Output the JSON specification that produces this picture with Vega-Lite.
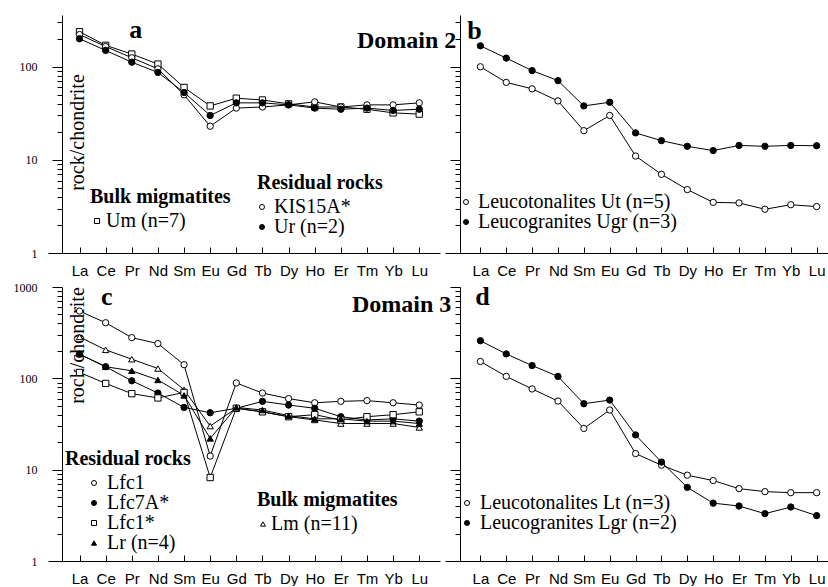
{
  "$schema": "https://vega.github.io/schema/vega-lite/v6.json",
  "padding": {"left": 13, "top": 15, "right": 0, "bottom": 0},
  "background": "white",
  "datasets": {
    "a": [
      {"s": "Um", "el": "La", "v": 238}, {"s": "Um", "el": "Ce", "v": 170}, {"s": "Um", "el": "Pr", "v": 137}, {"s": "Um", "el": "Nd", "v": 107}, {"s": "Um", "el": "Sm", "v": 60}, {"s": "Um", "el": "Eu", "v": 38}, {"s": "Um", "el": "Gd", "v": 46}, {"s": "Um", "el": "Tb", "v": 44}, {"s": "Um", "el": "Dy", "v": 40}, {"s": "Um", "el": "Ho", "v": 37}, {"s": "Um", "el": "Er", "v": 37}, {"s": "Um", "el": "Tm", "v": 35}, {"s": "Um", "el": "Yb", "v": 32}, {"s": "Um", "el": "Lu", "v": 31},
      {"s": "KIS15A*", "el": "La", "v": 222}, {"s": "KIS15A*", "el": "Ce", "v": 165}, {"s": "KIS15A*", "el": "Pr", "v": 125}, {"s": "KIS15A*", "el": "Nd", "v": 95}, {"s": "KIS15A*", "el": "Sm", "v": 50}, {"s": "KIS15A*", "el": "Eu", "v": 23}, {"s": "KIS15A*", "el": "Gd", "v": 36}, {"s": "KIS15A*", "el": "Tb", "v": 37}, {"s": "KIS15A*", "el": "Dy", "v": 39}, {"s": "KIS15A*", "el": "Ho", "v": 42}, {"s": "KIS15A*", "el": "Er", "v": 37}, {"s": "KIS15A*", "el": "Tm", "v": 39}, {"s": "KIS15A*", "el": "Yb", "v": 39}, {"s": "KIS15A*", "el": "Lu", "v": 41},
      {"s": "Ur (n=2)", "el": "La", "v": 200}, {"s": "Ur (n=2)", "el": "Ce", "v": 150}, {"s": "Ur (n=2)", "el": "Pr", "v": 112}, {"s": "Ur (n=2)", "el": "Nd", "v": 87}, {"s": "Ur (n=2)", "el": "Sm", "v": 53}, {"s": "Ur (n=2)", "el": "Eu", "v": 30}, {"s": "Ur (n=2)", "el": "Gd", "v": 41}, {"s": "Ur (n=2)", "el": "Tb", "v": 41}, {"s": "Ur (n=2)", "el": "Dy", "v": 39}, {"s": "Ur (n=2)", "el": "Ho", "v": 36}, {"s": "Ur (n=2)", "el": "Er", "v": 35}, {"s": "Ur (n=2)", "el": "Tm", "v": 36}, {"s": "Ur (n=2)", "el": "Yb", "v": 34}, {"s": "Ur (n=2)", "el": "Lu", "v": 35}
    ],
    "b": [
      {"s": "Leucotonalites Ut (n=5)", "el": "La", "v": 100}, {"s": "Leucotonalites Ut (n=5)", "el": "Ce", "v": 68}, {"s": "Leucotonalites Ut (n=5)", "el": "Pr", "v": 58}, {"s": "Leucotonalites Ut (n=5)", "el": "Nd", "v": 43}, {"s": "Leucotonalites Ut (n=5)", "el": "Sm", "v": 20.6}, {"s": "Leucotonalites Ut (n=5)", "el": "Eu", "v": 30}, {"s": "Leucotonalites Ut (n=5)", "el": "Gd", "v": 11}, {"s": "Leucotonalites Ut (n=5)", "el": "Tb", "v": 7}, {"s": "Leucotonalites Ut (n=5)", "el": "Dy", "v": 4.8}, {"s": "Leucotonalites Ut (n=5)", "el": "Ho", "v": 3.5}, {"s": "Leucotonalites Ut (n=5)", "el": "Er", "v": 3.45}, {"s": "Leucotonalites Ut (n=5)", "el": "Tm", "v": 2.95}, {"s": "Leucotonalites Ut (n=5)", "el": "Yb", "v": 3.3}, {"s": "Leucotonalites Ut (n=5)", "el": "Lu", "v": 3.15},
      {"s": "Leucogranites Ugr (n=3)", "el": "La", "v": 168}, {"s": "Leucogranites Ugr (n=3)", "el": "Ce", "v": 124}, {"s": "Leucogranites Ugr (n=3)", "el": "Pr", "v": 91}, {"s": "Leucogranites Ugr (n=3)", "el": "Nd", "v": 71}, {"s": "Leucogranites Ugr (n=3)", "el": "Sm", "v": 38}, {"s": "Leucogranites Ugr (n=3)", "el": "Eu", "v": 41.6}, {"s": "Leucogranites Ugr (n=3)", "el": "Gd", "v": 19.5}, {"s": "Leucogranites Ugr (n=3)", "el": "Tb", "v": 16.1}, {"s": "Leucogranites Ugr (n=3)", "el": "Dy", "v": 14}, {"s": "Leucogranites Ugr (n=3)", "el": "Ho", "v": 12.6}, {"s": "Leucogranites Ugr (n=3)", "el": "Er", "v": 14.3}, {"s": "Leucogranites Ugr (n=3)", "el": "Tm", "v": 14}, {"s": "Leucogranites Ugr (n=3)", "el": "Yb", "v": 14.3}, {"s": "Leucogranites Ugr (n=3)", "el": "Lu", "v": 14.2}
    ],
    "c": [
      {"s": "Lm (n=11)", "el": "La", "v": 284}, {"s": "Lm (n=11)", "el": "Ce", "v": 205}, {"s": "Lm (n=11)", "el": "Pr", "v": 162}, {"s": "Lm (n=11)", "el": "Nd", "v": 128}, {"s": "Lm (n=11)", "el": "Sm", "v": 75}, {"s": "Lm (n=11)", "el": "Eu", "v": 30}, {"s": "Lm (n=11)", "el": "Gd", "v": 47}, {"s": "Lm (n=11)", "el": "Tb", "v": 43}, {"s": "Lm (n=11)", "el": "Dy", "v": 38}, {"s": "Lm (n=11)", "el": "Ho", "v": 35}, {"s": "Lm (n=11)", "el": "Er", "v": 32}, {"s": "Lm (n=11)", "el": "Tm", "v": 32}, {"s": "Lm (n=11)", "el": "Yb", "v": 32}, {"s": "Lm (n=11)", "el": "Lu", "v": 29},
      {"s": "Lfc1", "el": "La", "v": 545}, {"s": "Lfc1", "el": "Ce", "v": 406}, {"s": "Lfc1", "el": "Pr", "v": 279}, {"s": "Lfc1", "el": "Nd", "v": 240}, {"s": "Lfc1", "el": "Sm", "v": 141}, {"s": "Lfc1", "el": "Eu", "v": 14.1}, {"s": "Lfc1", "el": "Gd", "v": 89}, {"s": "Lfc1", "el": "Tb", "v": 69}, {"s": "Lfc1", "el": "Dy", "v": 60}, {"s": "Lfc1", "el": "Ho", "v": 54}, {"s": "Lfc1", "el": "Er", "v": 56}, {"s": "Lfc1", "el": "Tm", "v": 57}, {"s": "Lfc1", "el": "Yb", "v": 54}, {"s": "Lfc1", "el": "Lu", "v": 51},
      {"s": "Lfc7A*", "el": "La", "v": 184}, {"s": "Lfc7A*", "el": "Ce", "v": 134}, {"s": "Lfc7A*", "el": "Pr", "v": 94}, {"s": "Lfc7A*", "el": "Nd", "v": 69}, {"s": "Lfc7A*", "el": "Sm", "v": 48}, {"s": "Lfc7A*", "el": "Eu", "v": 42}, {"s": "Lfc7A*", "el": "Gd", "v": 47}, {"s": "Lfc7A*", "el": "Tb", "v": 56}, {"s": "Lfc7A*", "el": "Dy", "v": 51}, {"s": "Lfc7A*", "el": "Ho", "v": 47}, {"s": "Lfc7A*", "el": "Er", "v": 38}, {"s": "Lfc7A*", "el": "Tm", "v": 35}, {"s": "Lfc7A*", "el": "Yb", "v": 36}, {"s": "Lfc7A*", "el": "Lu", "v": 34},
      {"s": "Lfc1*", "el": "La", "v": 116}, {"s": "Lfc1*", "el": "Ce", "v": 88}, {"s": "Lfc1*", "el": "Pr", "v": 68}, {"s": "Lfc1*", "el": "Nd", "v": 61}, {"s": "Lfc1*", "el": "Sm", "v": 70}, {"s": "Lfc1*", "el": "Eu", "v": 8.2}, {"s": "Lfc1*", "el": "Gd", "v": 47}, {"s": "Lfc1*", "el": "Tb", "v": 43}, {"s": "Lfc1*", "el": "Dy", "v": 38}, {"s": "Lfc1*", "el": "Ho", "v": 40}, {"s": "Lfc1*", "el": "Er", "v": 35}, {"s": "Lfc1*", "el": "Tm", "v": 38}, {"s": "Lfc1*", "el": "Yb", "v": 40}, {"s": "Lfc1*", "el": "Lu", "v": 43},
      {"s": "Lr (n=4)", "el": "La", "v": 184}, {"s": "Lr (n=4)", "el": "Ce", "v": 134}, {"s": "Lr (n=4)", "el": "Pr", "v": 121}, {"s": "Lr (n=4)", "el": "Nd", "v": 96}, {"s": "Lr (n=4)", "el": "Sm", "v": 65}, {"s": "Lr (n=4)", "el": "Eu", "v": 22}, {"s": "Lr (n=4)", "el": "Gd", "v": 48}, {"s": "Lr (n=4)", "el": "Tb", "v": 45}, {"s": "Lr (n=4)", "el": "Dy", "v": 39}, {"s": "Lr (n=4)", "el": "Ho", "v": 36}, {"s": "Lr (n=4)", "el": "Er", "v": 36}, {"s": "Lr (n=4)", "el": "Tm", "v": 34}, {"s": "Lr (n=4)", "el": "Yb", "v": 34}, {"s": "Lr (n=4)", "el": "Lu", "v": 32}
    ],
    "d": [
      {"s": "Leucotonalites Lt (n=3)", "el": "La", "v": 153}, {"s": "Leucotonalites Lt (n=3)", "el": "Ce", "v": 105}, {"s": "Leucotonalites Lt (n=3)", "el": "Pr", "v": 76.5}, {"s": "Leucotonalites Lt (n=3)", "el": "Nd", "v": 56.4}, {"s": "Leucotonalites Lt (n=3)", "el": "Sm", "v": 28.3}, {"s": "Leucotonalites Lt (n=3)", "el": "Eu", "v": 45}, {"s": "Leucotonalites Lt (n=3)", "el": "Gd", "v": 15}, {"s": "Leucotonalites Lt (n=3)", "el": "Tb", "v": 11.2}, {"s": "Leucotonalites Lt (n=3)", "el": "Dy", "v": 8.7}, {"s": "Leucotonalites Lt (n=3)", "el": "Ho", "v": 7.6}, {"s": "Leucotonalites Lt (n=3)", "el": "Er", "v": 6.2}, {"s": "Leucotonalites Lt (n=3)", "el": "Tm", "v": 5.75}, {"s": "Leucotonalites Lt (n=3)", "el": "Yb", "v": 5.6}, {"s": "Leucotonalites Lt (n=3)", "el": "Lu", "v": 5.6},
      {"s": "Leucogranites Lgr (n=2)", "el": "La", "v": 258}, {"s": "Leucogranites Lgr (n=2)", "el": "Ce", "v": 185}, {"s": "Leucogranites Lgr (n=2)", "el": "Pr", "v": 138}, {"s": "Leucogranites Lgr (n=2)", "el": "Nd", "v": 105}, {"s": "Leucogranites Lgr (n=2)", "el": "Sm", "v": 52.7}, {"s": "Leucogranites Lgr (n=2)", "el": "Eu", "v": 57.8}, {"s": "Leucogranites Lgr (n=2)", "el": "Gd", "v": 24}, {"s": "Leucogranites Lgr (n=2)", "el": "Tb", "v": 12.1}, {"s": "Leucogranites Lgr (n=2)", "el": "Dy", "v": 6.4}, {"s": "Leucogranites Lgr (n=2)", "el": "Ho", "v": 4.3}, {"s": "Leucogranites Lgr (n=2)", "el": "Er", "v": 4.0}, {"s": "Leucogranites Lgr (n=2)", "el": "Tm", "v": 3.3}, {"s": "Leucogranites Lgr (n=2)", "el": "Yb", "v": 3.9}, {"s": "Leucogranites Lgr (n=2)", "el": "Lu", "v": 3.14}
    ]
  },
  "config": {
    "view": {"stroke": null},
    "axis": {"grid": false, "domainColor": "black", "tickColor": "black", "labelColor": "black", "titleColor": "black", "domainWidth": 1, "tickWidth": 1},
    "axisX": {"title": null, "tickSize": -6, "labelFont": "Liberation Sans", "labelFontSize": 15, "labelPadding": 16, "labelAngle": 0, "labelOverlap": false},
    "legend": {"labelFont": "Liberation Serif", "labelFontSize": 20, "titleFont": "Liberation Serif", "titleFontSize": 20, "titleFontWeight": "bold", "titleColor": "black", "labelColor": "black", "symbolSize": 25, "rowPadding": 0, "labelOffset": 2, "padding": 0, "titlePadding": 4, "symbolStrokeWidth": 1, "labelLimit": 0, "titleLimit": 0},
    "point": {"filled": true, "size": 40, "strokeWidth": 1, "opacity": 1},
    "line": {"color": "black", "strokeWidth": 1},
    "text": {"font": "Liberation Serif", "fontWeight": "bold", "color": "black"}
  },
  "columns": 2,
  "spacing": {"row": 34, "column": 5},
  "bounds": "flush",
  "align": "each",
  "concat": [
    {
      "width": 392, "height": 238,
      "data": {"name": "a"},
      "encoding": {
        "x": {"field": "el", "type": "ordinal", "sort": null, "scale": {"type": "point", "domain": ["La","Ce","Pr","Nd","Sm","Eu","Gd","Tb","Dy","Ho","Er","Tm","Yb","Lu"], "padding": 1.2446, "align": 0.603}},
        "y": {"field": "v", "type": "quantitative", "scale": {"type": "log", "domain": [1, 360]},
          "axis": {"values": [1,2,3,4,5,6,7,8,9,10,20,30,40,50,60,70,80,90,100,200,300], "offset": -14,
            "tickSize": {"condition": {"test": "indexof([1,10,100,1000], datum.value) >= 0", "value": 10}, "value": 5},
            "labelExpr": "indexof([1,10,100,1000], datum.value) >= 0 ? format(datum.value, 'd') : ''",
            "labelFont": "Liberation Serif", "labelFontSize": 12, "labelPadding": 15,
            "title": "rock/chondrite", "titleFont": "Liberation Serif", "titleFontSize": 20, "titleFontWeight": "normal",
            "titleAngle": -90, "titleX": 15, "titleY": 117, "titleAlign": "center", "titleBaseline": "middle"}}
      },
      "resolve": {"scale": {"shape": "independent", "fill": "independent", "stroke": "independent"}},
      "layer": [
        {"mark": "line", "encoding": {"detail": {"field": "s"}, "order": {"value": null}}},
        {"transform": [{"filter": {"field": "s", "oneOf": ["Um"]}}],
         "mark": "point",
         "encoding": {
           "shape": {"field": "s", "scale": {"domain": ["Um"], "range": ["square"]}, "legend": {"title": "Bulk migmatites", "orient": "none", "legendX": 42, "legendY": 172, "symbolOffset": -3, "labelOffset": -1, "labelExpr": "'Um (n=7)'"}},
           "fill": {"field": "s", "scale": {"domain": ["Um"], "range": ["white"]}, "legend": {"title": "Bulk migmatites", "orient": "none", "legendX": 42, "legendY": 172, "symbolOffset": -3, "labelOffset": -1, "labelExpr": "'Um (n=7)'"}},
           "stroke": {"field": "s", "scale": {"domain": ["Um"], "range": ["black"]}, "legend": {"title": "Bulk migmatites", "orient": "none", "legendX": 42, "legendY": 172, "symbolOffset": -3, "labelOffset": -1, "labelExpr": "'Um (n=7)'"}}
         }},
        {"transform": [{"filter": {"field": "s", "oneOf": ["KIS15A*", "Ur (n=2)"]}}],
         "mark": "point",
         "encoding": {
           "shape": {"field": "s", "scale": {"domain": ["KIS15A*", "Ur (n=2)"], "range": ["circle", "circle"]}, "legend": {"title": "Residual rocks", "orient": "none", "legendX": 209, "legendY": 158, "symbolOffset": -5, "labelOffset": 2}},
           "fill": {"field": "s", "scale": {"domain": ["KIS15A*", "Ur (n=2)"], "range": ["white", "black"]}, "legend": {"title": "Residual rocks", "orient": "none", "legendX": 209, "legendY": 158, "symbolOffset": -5, "labelOffset": 2}},
           "stroke": {"field": "s", "scale": {"domain": ["KIS15A*", "Ur (n=2)"], "range": ["black", "black"]}, "legend": {"title": "Residual rocks", "orient": "none", "legendX": 209, "legendY": 158, "symbolOffset": -5, "labelOffset": 2}}
         }},
        {"data": {"values": [{"t": "a", "el": "Pr", "v": 248}]}, "mark": {"type": "text", "fontSize": 26, "dx": 4, "baseline": "middle"}, "encoding": {"text": {"field": "t"}}},
        {"data": {"values": [{"t": "Domain 2", "el": "Lu", "v": 189}]}, "mark": {"type": "text", "fontSize": 24, "dx": 37, "align": "right", "baseline": "middle"}, "encoding": {"text": {"field": "t"}}}
      ]
    },
    {
      "width": 388, "height": 238,
      "data": {"name": "b"},
      "encoding": {
        "x": {"field": "el", "type": "ordinal", "sort": null, "scale": {"type": "point", "domain": ["La","Ce","Pr","Nd","Sm","Eu","Gd","Tb","Dy","Ho","Er","Tm","Yb","Lu"], "padding": 1.1427, "align": 0.684}},
        "y": {"field": "v", "type": "quantitative", "scale": {"type": "log", "domain": [1, 360]},
          "axis": {"values": [1,2,3,4,5,6,7,8,9,10,20,30,40,50,60,70,80,90,100,200,300], "offset": -15,
            "tickSize": {"condition": {"test": "indexof([1,10,100,1000], datum.value) >= 0", "value": 10}, "value": 5},
            "labels": false, "title": null}}
      },
      "resolve": {"scale": {"shape": "independent", "fill": "independent", "stroke": "independent"}},
      "layer": [
        {"mark": "line", "encoding": {"detail": {"field": "s"}, "order": {"value": null}}},
        {"mark": "point",
         "encoding": {
           "shape": {"field": "s", "scale": {"domain": ["Leucotonalites Ut (n=5)", "Leucogranites Ugr (n=3)"], "range": ["circle", "circle"]}, "legend": {"title": null, "orient": "none", "legendX": 11, "legendY": 177, "labelOffset": 2}},
           "fill": {"field": "s", "scale": {"domain": ["Leucotonalites Ut (n=5)", "Leucogranites Ugr (n=3)"], "range": ["white", "black"]}, "legend": {"title": null, "orient": "none", "legendX": 11, "legendY": 177, "labelOffset": 2}},
           "stroke": {"field": "s", "scale": {"domain": ["Leucotonalites Ut (n=5)", "Leucogranites Ugr (n=3)"], "range": ["black", "black"]}, "legend": {"title": null, "orient": "none", "legendX": 11, "legendY": 177, "labelOffset": 2}}
         }},
        {"data": {"values": [{"t": "b", "el": "La", "v": 242}]}, "mark": {"type": "text", "fontSize": 26, "dx": -6, "baseline": "middle"}, "encoding": {"text": {"field": "t"}}}
      ]
    },
    {
      "width": 392, "height": 274,
      "data": {"name": "c"},
      "encoding": {
        "x": {"field": "el", "type": "ordinal", "sort": null, "scale": {"type": "point", "domain": ["La","Ce","Pr","Nd","Sm","Eu","Gd","Tb","Dy","Ho","Er","Tm","Yb","Lu"], "padding": 1.2446, "align": 0.603}},
        "y": {"field": "v", "type": "quantitative", "scale": {"type": "log", "domain": [1, 1000]},
          "axis": {"values": [1,2,3,4,5,6,7,8,9,10,20,30,40,50,60,70,80,90,100,200,300,400,500,600,700,800,900,1000], "offset": -14,
            "tickSize": {"condition": {"test": "indexof([1,10,100,1000], datum.value) >= 0", "value": 10}, "value": 5},
            "labelExpr": "indexof([1,10,100,1000], datum.value) >= 0 ? format(datum.value, 'd') : ''",
            "labelFont": "Liberation Serif", "labelFontSize": 12, "labelPadding": 15,
            "title": "rock/chondrite", "titleFont": "Liberation Serif", "titleFontSize": 20, "titleFontWeight": "normal",
            "titleAngle": -90, "titleX": 15, "titleY": 58, "titleAlign": "center", "titleBaseline": "middle"}}
      },
      "resolve": {"scale": {"shape": "independent", "fill": "independent", "stroke": "independent"}},
      "layer": [
        {"mark": "line", "encoding": {"detail": {"field": "s"}, "order": {"value": null}}},
        {"transform": [{"filter": {"field": "s", "oneOf": ["Lm (n=11)"]}}],
         "mark": "point",
         "encoding": {
           "shape": {"field": "s", "scale": {"domain": ["Lm (n=11)"], "range": ["triangle-up"]}, "legend": {"title": "Bulk migmatites", "orient": "none", "legendX": 209, "legendY": 203, "symbolOffset": -4, "labelOffset": -2}},
           "fill": {"field": "s", "scale": {"domain": ["Lm (n=11)"], "range": ["white"]}, "legend": {"title": "Bulk migmatites", "orient": "none", "legendX": 209, "legendY": 203, "symbolOffset": -4, "labelOffset": -2}},
           "stroke": {"field": "s", "scale": {"domain": ["Lm (n=11)"], "range": ["black"]}, "legend": {"title": "Bulk migmatites", "orient": "none", "legendX": 209, "legendY": 203, "symbolOffset": -4, "labelOffset": -2}}
         }},
        {"transform": [{"filter": {"field": "s", "oneOf": ["Lfc1", "Lfc7A*", "Lfc1*", "Lr (n=4)"]}}],
         "mark": "point",
         "encoding": {
           "shape": {"field": "s", "scale": {"domain": ["Lfc1", "Lfc7A*", "Lfc1*", "Lr (n=4)"], "range": ["circle", "circle", "square", "triangle-up"]}, "legend": {"title": "Residual rocks", "orient": "none", "legendX": 17, "legendY": 162, "symbolOffset": 19, "labelOffset": 3, "rowPadding": -2}},
           "fill": {"field": "s", "scale": {"domain": ["Lfc1", "Lfc7A*", "Lfc1*", "Lr (n=4)"], "range": ["white", "black", "white", "black"]}, "legend": {"title": "Residual rocks", "orient": "none", "legendX": 17, "legendY": 162, "symbolOffset": 19, "labelOffset": 3, "rowPadding": -2}},
           "stroke": {"field": "s", "scale": {"domain": ["Lfc1", "Lfc7A*", "Lfc1*", "Lr (n=4)"], "range": ["black", "black", "black", "black"]}, "legend": {"title": "Residual rocks", "orient": "none", "legendX": 17, "legendY": 162, "symbolOffset": 19, "labelOffset": 3, "rowPadding": -2}}
         }},
        {"data": {"values": [{"t": "c", "el": "Ce", "v": 777}]}, "mark": {"type": "text", "fontSize": 26, "dx": 1, "baseline": "middle"}, "encoding": {"text": {"field": "t"}}},
        {"data": {"values": [{"t": "Domain 3", "el": "Lu", "v": 637}]}, "mark": {"type": "text", "fontSize": 24, "dx": 32, "align": "right", "baseline": "middle"}, "encoding": {"text": {"field": "t"}}}
      ]
    },
    {
      "width": 388, "height": 274,
      "data": {"name": "d"},
      "encoding": {
        "x": {"field": "el", "type": "ordinal", "sort": null, "scale": {"type": "point", "domain": ["La","Ce","Pr","Nd","Sm","Eu","Gd","Tb","Dy","Ho","Er","Tm","Yb","Lu"], "padding": 1.1427, "align": 0.684}},
        "y": {"field": "v", "type": "quantitative", "scale": {"type": "log", "domain": [1, 1000]},
          "axis": {"values": [1,2,3,4,5,6,7,8,9,10,20,30,40,50,60,70,80,90,100,200,300,400,500,600,700,800,900,1000], "offset": -15,
            "tickSize": {"condition": {"test": "indexof([1,10,100,1000], datum.value) >= 0", "value": 10}, "value": 5},
            "labels": false, "title": null}}
      },
      "resolve": {"scale": {"shape": "independent", "fill": "independent", "stroke": "independent"}},
      "layer": [
        {"mark": "line", "encoding": {"detail": {"field": "s"}, "order": {"value": null}}},
        {"mark": "point",
         "encoding": {
           "shape": {"field": "s", "scale": {"domain": ["Leucotonalites Lt (n=3)", "Leucogranites Lgr (n=2)"], "range": ["circle", "circle"]}, "legend": {"title": null, "orient": "none", "legendX": 12, "legendY": 206, "labelOffset": 3}},
           "fill": {"field": "s", "scale": {"domain": ["Leucotonalites Lt (n=3)", "Leucogranites Lgr (n=2)"], "range": ["white", "black"]}, "legend": {"title": null, "orient": "none", "legendX": 12, "legendY": 206, "labelOffset": 3}},
           "stroke": {"field": "s", "scale": {"domain": ["Leucotonalites Lt (n=3)", "Leucogranites Lgr (n=2)"], "range": ["black", "black"]}, "legend": {"title": null, "orient": "none", "legendX": 12, "legendY": 206, "labelOffset": 3}}
         }},
        {"data": {"values": [{"t": "d", "el": "La", "v": 777}]}, "mark": {"type": "text", "fontSize": 26, "dx": 2, "baseline": "middle"}, "encoding": {"text": {"field": "t"}}}
      ]
    }
  ]
}
